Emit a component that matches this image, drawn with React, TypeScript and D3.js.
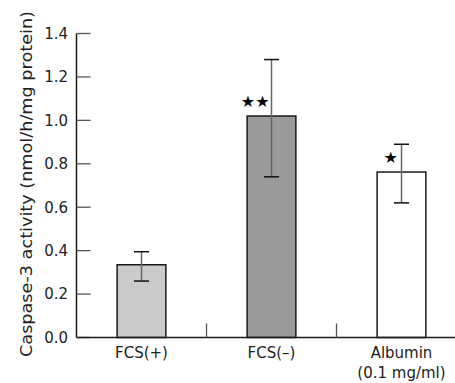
import React, { useEffect, useRef } from 'react';
import * as d3 from 'd3';

const categories = ['FCS(+)', 'FCS(–)', 'Albumin'];
const subLabels = ['', '', '(0.1 mg/ml)'];
const means = [0.335, 1.02, 0.762];
const errLow = [0.26, 0.74, 0.62];
const errHigh = [0.395, 1.28, 0.89];
const stars = [0, 2, 1];
const fills = ['#cbcbcb', '#9a9a9a', '#ffffff'];
const yTicks = [0, 0.2, 0.4, 0.6, 0.8, 1.0, 1.2, 1.4];

const W = 455;
const H = 383;
const FONT = '"DejaVu Sans", sans-serif';

const App = () => {
  const svgRef = useRef<SVGSVGElement>(null);

  useEffect(() => {
    const svg = d3.select(svgRef.current);
    svg.selectAll('*').remove();

    const x0 = 76.5;
    const y = d3.scaleLinear().domain([0, 1.4]).range([337.5, 33.5]);
    const x = d3.scaleBand<string>()
      .domain(categories)
      .range([x0, x0 + 390])
      .padding(0);
    const barW = x.bandwidth() * 0.375;
    const cx = (i: number) => (x(categories[i]) as number) + x.bandwidth() / 2;

    // y axis
    svg.append('line')
      .attr('x1', x0).attr('x2', x0)
      .attr('y1', y(1.4)).attr('y2', y(0))
      .attr('stroke', '#1a1a1a').attr('stroke-width', 1.5);

    svg.selectAll('.ytick')
      .data(yTicks)
      .enter().append('line')
      .attr('x1', x0).attr('x2', x0 + 14)
      .attr('y1', d => y(d)).attr('y2', d => y(d))
      .attr('stroke', '#555').attr('stroke-width', 1.3);

    svg.selectAll('.ylab')
      .data(yTicks)
      .enter().append('text')
      .attr('x', 68)
      .attr('y', d => y(d))
      .attr('dy', '0.36em')
      .attr('text-anchor', 'end')
      .style('font-family', FONT)
      .style('font-size', '15px')
      .attr('fill', '#222')
      .text(d => d.toFixed(1));

    svg.append('text')
      .attr('transform', `translate(32,184) rotate(-90)`)
      .attr('text-anchor', 'middle')
      .attr('textLength', 346)
      .attr('lengthAdjust', 'spacingAndGlyphs')
      .style('font-family', FONT)
      .style('font-size', '15px')
      .attr('fill', '#222')
      .text('Caspase-3 activity (nmol/h/mg protein)');

    // bars
    svg.selectAll('.bar')
      .data(categories)
      .enter().append('rect')
      .attr('x', (d, i) => cx(i) - barW / 2)
      .attr('y', (d, i) => y(means[i]))
      .attr('width', barW)
      .attr('height', (d, i) => y(0) - y(means[i]))
      .attr('fill', (d, i) => fills[i])
      .attr('stroke', '#1a1a1a')
      .attr('stroke-width', 1.5);

    // error bars
    categories.forEach((c, i) => {
      svg.append('line')
        .attr('x1', cx(i)).attr('x2', cx(i))
        .attr('y1', y(errHigh[i])).attr('y2', y(errLow[i]))
        .attr('stroke', '#666').attr('stroke-width', 1.5);
      [errHigh[i], errLow[i]].forEach(v => {
        svg.append('line')
          .attr('x1', cx(i) - 7.5).attr('x2', cx(i) + 7.5)
          .attr('y1', y(v)).attr('y2', y(v))
          .attr('stroke', '#111').attr('stroke-width', 1.5);
      });
      if (stars[i] > 0) {
        svg.append('text')
          .attr('x', cx(i) - barW / 2 + (stars[i] === 2 ? 8 : 13.5))
          .attr('y', y(means[i]) - 15)
          .attr('dy', '0.35em')
          .attr('text-anchor', 'middle')
          .style('font-family', FONT)
          .style('font-size', '16px')
          .attr('fill', '#000')
          .text('★'.repeat(stars[i]));
      }
    });

    // baseline and separators
    svg.append('line')
      .attr('x1', x0).attr('x2', W)
      .attr('y1', y(0)).attr('y2', y(0))
      .attr('stroke', '#1a1a1a').attr('stroke-width', 1.5);

    svg.selectAll('.sep')
      .data(categories.slice(1))
      .enter().append('line')
      .attr('x1', d => x(d) as number).attr('x2', d => x(d) as number)
      .attr('y1', y(0)).attr('y2', y(0) - 14)
      .attr('stroke', '#555').attr('stroke-width', 1.3);

    // category labels
    categories.forEach((c, i) => {
      svg.append('text')
        .attr('x', cx(i)).attr('y', 358)
        .attr('text-anchor', 'middle')
        .style('font-family', FONT)
        .style('font-size', '15px')
        .attr('fill', '#222')
        .text(c);
      if (subLabels[i]) {
        svg.append('text')
          .attr('x', cx(i)).attr('y', 378)
          .attr('text-anchor', 'middle')
          .style('font-family', FONT)
          .style('font-size', '15px')
          .attr('fill', '#222')
          .text(subLabels[i]);
      }
    });
  }, []);

  return (
    <svg
      ref={svgRef}
      width={W}
      height={H}
      style={{ position: 'absolute', left: 0, top: 0, background: '#fff' }}
    />
  );
};

export default App;
